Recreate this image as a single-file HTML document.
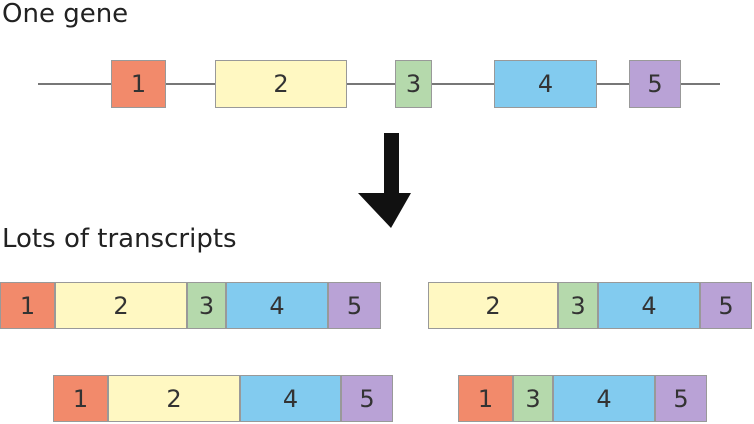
<!DOCTYPE html>
<html><head><style>
body{margin:0;width:754px;height:424px;background:#fff;position:relative;overflow:hidden;font-family:"DejaVu Sans","Liberation Sans",sans-serif;color:#222}
.t{position:absolute;font-size:26px;white-space:nowrap}
.b{position:absolute;box-sizing:border-box;border:1px solid #999;display:flex;align-items:center;justify-content:center;font-size:24px;color:#333}
.o{background:#f28a6b}.y{background:#fff8c2}.g{background:#b5d9ac}.bl{background:#82cbef}.p{background:#b9a2d6}
</style></head><body>
<div class="t" style="left:2px;top:-1px">One gene</div>
<div class="t" style="left:2px;top:224px">Lots of transcripts</div>
<div style="position:absolute;left:38px;top:83px;width:682px;height:2px;background:#777"></div>
<div class="b o" style="left:111px;top:60px;width:55px;height:48px">1</div>
<div class="b y" style="left:215px;top:60px;width:132px;height:48px">2</div>
<div class="b g" style="left:395px;top:60px;width:37px;height:48px">3</div>
<div class="b bl" style="left:494px;top:60px;width:103px;height:48px">4</div>
<div class="b p" style="left:629px;top:60px;width:52px;height:48px">5</div>
<svg style="position:absolute;left:0;top:0" width="754" height="424"><polygon points="384,133 399,133 399,193 411,193 391,228 358,193 384,193" fill="#111"/></svg>
<div class="b o" style="left:0px;top:282px;width:55px;height:47px">1</div>
<div class="b y" style="left:55px;top:282px;width:132px;height:47px">2</div>
<div class="b g" style="left:187px;top:282px;width:39px;height:47px">3</div>
<div class="b bl" style="left:226px;top:282px;width:102px;height:47px">4</div>
<div class="b p" style="left:328px;top:282px;width:53px;height:47px">5</div>
<div class="b y" style="left:428px;top:282px;width:130px;height:47px">2</div>
<div class="b g" style="left:558px;top:282px;width:40px;height:47px">3</div>
<div class="b bl" style="left:598px;top:282px;width:102px;height:47px">4</div>
<div class="b p" style="left:700px;top:282px;width:52px;height:47px">5</div>
<div class="b o" style="left:53px;top:375px;width:55px;height:47px">1</div>
<div class="b y" style="left:108px;top:375px;width:132px;height:47px">2</div>
<div class="b bl" style="left:240px;top:375px;width:101px;height:47px">4</div>
<div class="b p" style="left:341px;top:375px;width:52px;height:47px">5</div>
<div class="b o" style="left:458px;top:375px;width:55px;height:47px">1</div>
<div class="b g" style="left:513px;top:375px;width:40px;height:47px">3</div>
<div class="b bl" style="left:553px;top:375px;width:102px;height:47px">4</div>
<div class="b p" style="left:655px;top:375px;width:52px;height:47px">5</div>
</body></html>
